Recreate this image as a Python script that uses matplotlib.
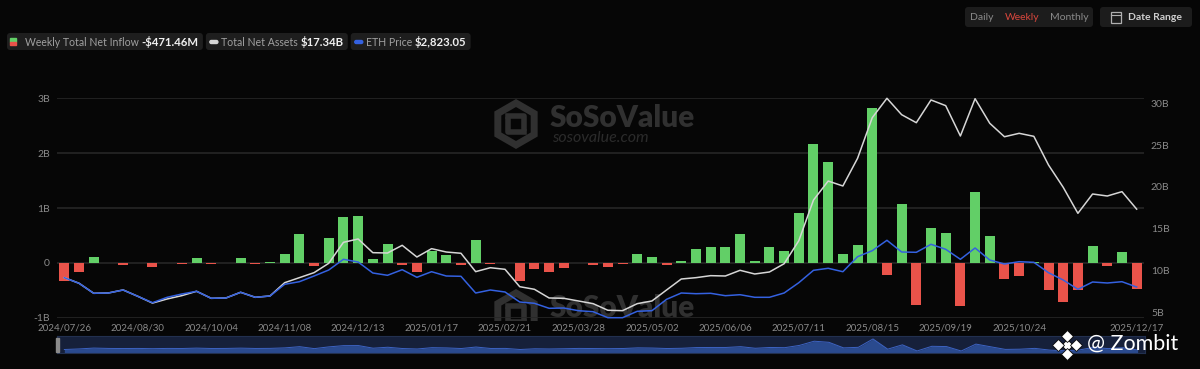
import matplotlib
matplotlib.use('Agg')
import matplotlib.pyplot as plt
import pandas as pd
from matplotlib.patches import FancyBboxPatch, Rectangle, RegularPolygon
from matplotlib.lines import Line2D
from matplotlib.transforms import IdentityTransform, Bbox

plt.rcParams['font.family'] = ['Lato', 'DejaVu Sans']

# 周度数据：2024/07/26 起每周五，最后一个点是 2025/12/17
weeks = pd.date_range('2024-07-26', periods=73, freq='7D').strftime('%Y/%m/%d').tolist() + ['2025/12/17']

tick_labels = ['2024/07/26', '2024/08/30', '2024/10/04', '2024/11/08', '2024/12/13',
               '2025/01/17', '2025/02/21', '2025/03/28', '2025/05/02', '2025/06/06',
               '2025/07/11', '2025/08/15', '2025/09/19', '2025/10/24', '2025/12/17']

# 周净流入 (B USD)
net_inflow = [-0.33, -0.16, 0.10, -0.01, -0.04, -0.01, -0.08, -0.01, -0.03, 0.085,
              -0.03, -0.01, 0.08, -0.02, 0.01, 0.157, 0.52, -0.066, 0.46, 0.83,
              0.85, 0.066, 0.35, -0.036, -0.175, 0.22, 0.145, -0.04, 0.415, -0.025,
              -0.005, -0.33, -0.115, -0.17, -0.096, -0.005, -0.042, -0.072, -0.03, 0.163,
              0.108, -0.036, 0.04, 0.25, 0.28, 0.28, 0.52, 0.04, 0.28, 0.22,
              0.90, 2.16, 1.83, 0.157, 0.32, 2.83, -0.23, 1.07, -0.77, 0.63,
              0.55, -0.78, 1.29, 0.49, -0.30, -0.235, 0.01, -0.50, -0.71, -0.50,
              0.31, -0.06, 0.205, -0.47146]

# 总净资产 (B USD)
total_assets = [9.14, 8.47, 7.27, 7.31, 7.67, 6.91, 6.10, 6.59, 6.99, 7.51,
                6.67, 6.71, 7.39, 6.79, 6.95, 8.54, 9.14, 9.74, 10.86, 13.37,
                13.77, 12.13, 12.09, 13.01, 11.61, 12.61, 12.21, 12.06, 9.86, 10.33,
                10.14, 8.06, 7.75, 6.71, 6.67, 6.35, 6.03, 5.24, 5.19, 6.03,
                6.35, 7.67, 8.98, 9.14, 9.38, 9.34, 10.02, 9.58, 9.82, 10.81,
                13.56, 18.43, 20.70, 20.11, 23.42, 28.28, 30.60, 28.64, 27.68, 30.40,
                29.72, 26.09, 30.55, 27.61, 26.00, 26.41, 26.05, 22.62, 19.95, 16.84,
                19.15, 18.91, 19.43, 17.34]

# ETH 价格 (USD)
eth_price = [3195, 2971, 2571, 2583, 2703, 2451, 2195, 2411, 2543, 2651,
             2371, 2383, 2611, 2411, 2463, 2931, 3035, 3263, 3503, 3931,
             3823, 3383, 3291, 3515, 3211, 3435, 3263, 3251, 2583, 2703,
             2623, 2223, 2171, 1971, 1983, 1875, 1835, 1595, 1595, 1851,
             1875, 2331, 2583, 2555, 2571, 2475, 2515, 2411, 2411, 2583,
             2995, 3491, 3571, 3435, 4035, 4275, 4691, 4223, 4211, 4531,
             4331, 3931, 4383, 3903, 3743, 3835, 3811, 3395, 3103, 2731,
             3023, 2983, 3035, 2823]

GREEN = '#62cf67'
RED = '#e9534a'
ASSET_C = '#d6d6d6'
ETH_C = '#3461e0'
BG = '#060606'
GRID = '#262626'
TICK_C = '#8a8a8a'
WM = '#303030'

W, H = 1200, 369
fig = plt.figure(figsize=(W / 100, H / 100), dpi=100, facecolor=BG)


def fx(x):
    return x / W


def fy(y):
    return 1 - y / H


def dp(x, y):
    # 像素坐标(左上为原点) -> 显示坐标
    return (x, H - y)


# 水印 SoSoValue（两处，第二处只露出上半部分）
clip = Bbox.from_extents(0, H - 321, W, H)
for dy in [0, 190]:
    arts = []
    arts.append(RegularPolygon(dp(516, 124 + dy), 6, radius=21, orientation=0,
                               facecolor='none', edgecolor=WM, lw=5,
                               transform=IdentityTransform(), zorder=-2))
    arts.append(Line2D([508, 524, 524], [H - 116 - dy, H - 116 - dy, H - 128 - dy],
                       color=WM, lw=4, transform=IdentityTransform(), zorder=-2))
    arts.append(Line2D([508, 508, 524], [H - 120 - dy, H - 132 - dy, H - 132 - dy],
                       color=WM, lw=4, transform=IdentityTransform(), zorder=-2))
    for a in arts:
        fig.add_artist(a)
        if dy:
            a.set_clip_box(clip)
    t = fig.text(fx(550), fy(118 + dy), 'SoSoValue', fontsize=21.5, fontweight='heavy',
                 color=WM, va='center', ha='left', zorder=-2)
    if dy:
        t.set_clip_box(clip)
        t.set_clip_on(True)
    else:
        fig.text(fx(552), fy(138), 'sosovalue.com', fontsize=11.5, style='italic',
                 color='#2b2b2b', va='center', ha='left', zorder=-2)

x = list(range(len(weeks)))

ax = fig.add_axes([fx(57), fy(317.7), fx(1144) - fx(57), (317.7 - 98.3) / H])
ax.set_facecolor('none')
colors = [GREEN if v >= 0 else RED for v in net_inflow]
ax.bar(x, net_inflow, width=0.68, color=colors, zorder=2)
ax.set_xlim(-0.5, len(weeks) - 0.5)
ax.set_ylim(-1, 3)
ax.set_yticks([-1, 0, 1, 2, 3])
ax.set_yticklabels(['-1B', '0', '1B', '2B', '3B'])
ax.grid(axis='y', color=GRID, lw=1.2)
ax.set_axisbelow(True)
ax.set_xticks([weeks.index(t) for t in tick_labels])
ax.set_xticklabels(tick_labels)
ax.tick_params(axis='x', length=0, pad=4, labelsize=7, labelcolor=TICK_C)
ax.tick_params(axis='y', length=0, pad=5, labelsize=7.5, labelcolor=TICK_C)
for s in ax.spines.values():
    s.set_visible(False)

ax2 = ax.twinx()
ax2.plot(x, total_assets, color=ASSET_C, lw=1.1, clip_on=False, zorder=3)
ax2.set_ylim(4.35, 30.6)
ax2.set_yticks([5, 10, 15, 20, 25, 30])
ax2.set_yticklabels(['5B', '10B', '15B', '20B', '25B', '30B'])
ax2.tick_params(axis='y', length=0, pad=5, labelsize=7.5, labelcolor=TICK_C)
for s in ax2.spines.values():
    s.set_visible(False)

ax3 = ax.twinx()
ax3.plot(x, eth_price, color=ETH_C, lw=1.1, clip_on=False, zorder=4)
ax3.set_ylim(1595, 10371)
ax3.axis('off')

# 底部导航条
nav = fig.add_axes([fx(57), fy(353), fx(1145) - fx(57), 17 / H])
nav.set_facecolor('#16203a')
nav.fill_between(x, -1.38, net_inflow, color='#2a4a8e', lw=0)
nav.plot(x, net_inflow, color='#3d63c2', lw=0.7)
nav.set_xlim(-0.5, len(weeks) - 0.5)
nav.set_ylim(-1.38, 3.72)
nav.set_xticks([])
nav.set_yticks([])
for s in nav.spines.values():
    s.set_color('#22304f')
fig.add_artist(Rectangle(dp(56, 352), 3, 14, color='#8a8a8a', transform=IdentityTransform()))

# 图例
renderer = fig.canvas.get_renderer()


def text_end(t):
    bb = t.get_window_extent(renderer)
    return bb.x1


legend_items = [('Weekly Total Net Inflow', '-$471.46M', 'split'),
                ('Total Net Assets', '$17.34B', ASSET_C),
                ('ETH Price', '$2,823.05', ETH_C)]
xpos = 7
for label, value, icon in legend_items:
    start = xpos
    if icon == 'split':
        fig.add_artist(Rectangle(dp(10, 41.5), 6, 3.5, color=GREEN, transform=IdentityTransform()))
        fig.add_artist(Rectangle(dp(10, 45), 6, 3.5, color=RED, transform=IdentityTransform()))
        tx = 25
    else:
        fig.add_artist(FancyBboxPatch(dp(xpos + 4, 43.5), 8, 3,
                                      boxstyle='round,pad=0,rounding_size=1.5',
                                      color=icon, transform=IdentityTransform()))
        tx = xpos + 15
    t1 = fig.text(fx(tx), fy(42), label, fontsize=7.6, color='#a0a0a0', va='center', ha='left')
    t2 = fig.text(fx(text_end(t1) + 3), fy(42), value, fontsize=8.2, fontweight='bold',
                  color='#f0f0f0', va='center', ha='left')
    end = text_end(t2) + 4
    fig.add_artist(FancyBboxPatch(dp(start, 50), end - start, 17,
                                  boxstyle='round,pad=0,rounding_size=3',
                                  facecolor='#1e1e1e', edgecolor='none',
                                  transform=IdentityTransform(), zorder=0.5))
    xpos = end + 3

# 右上角按钮
fig.add_artist(FancyBboxPatch(dp(965, 27), 128, 20, boxstyle='round,pad=0,rounding_size=3',
                              facecolor='#1c1c1c', edgecolor='none', transform=IdentityTransform()))
fig.add_artist(FancyBboxPatch(dp(1100, 27), 92, 20, boxstyle='round,pad=0,rounding_size=3',
                              facecolor='#1c1c1c', edgecolor='none', transform=IdentityTransform()))
for lbl, xc, c in [('Daily', 982, '#8a8a8a'), ('Weekly', 1022, '#d8473d'), ('Monthly', 1069, '#8a8a8a')]:
    fig.text(fx(xc), fy(17), lbl, fontsize=7.5, color=c, ha='center', va='center')
fig.add_artist(Rectangle(dp(1111, 22.5), 10, 11, facecolor='none', edgecolor='#b0b0b0', lw=0.9,
                         transform=IdentityTransform()))
fig.add_artist(Line2D([1111, 1121], [H - 15, H - 15], color='#b0b0b0', lw=0.8, transform=IdentityTransform()))
fig.text(fx(1155), fy(17), 'Date Range', fontsize=7.5, fontweight='bold', color='#cfcfcf',
         ha='center', va='center')

# @Zombit 水印
for ddx, ddy, sz in [(0, 0, 6), (0, -9, 6), (0, 9, 6), (-9, 0, 6), (9, 0, 6)]:
    fig.add_artist(Line2D([1067 + ddx], [H - 345 + ddy], marker='D', markersize=sz,
                          color='white', markeredgecolor='#060606', markeredgewidth=0.6,
                          transform=IdentityTransform()))
fig.text(fx(1087), fy(344), '@ Zombit', fontsize=15.5, color='white', ha='left', va='center')

fig.savefig('out.png', dpi=100, facecolor=BG)
